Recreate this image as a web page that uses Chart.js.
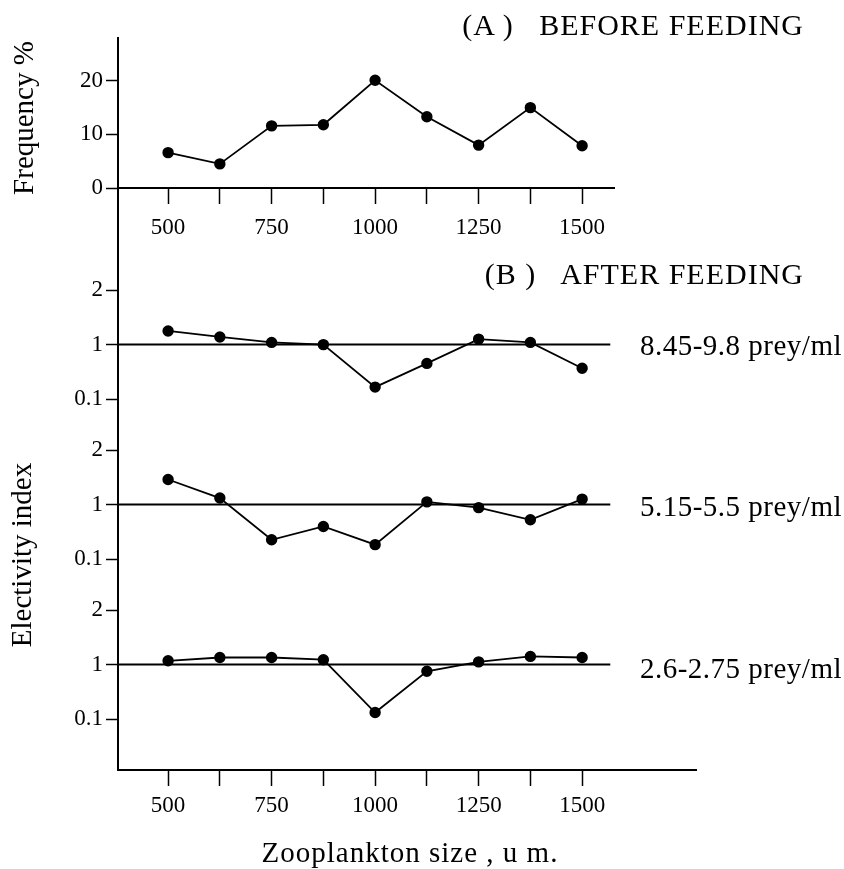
<!DOCTYPE html>
<html lang="en">
  <head>
    <meta charset="UTF-8" />
    <title>Electivity of zooplankton sizes</title>
    <script src="https://cdn.jsdelivr.net/npm/chart.js"></script>
    <style>
      body {
        margin: 0;
        background: #fff;
        color: #000;
        font-family: "Liberation Serif", "Times New Roman", serif;
      }
      #page {
        position: relative;
        width: 844px;
        height: 869px;
        overflow: hidden;
      }
      canvas {
        position: absolute;
        left: 0;
      }
      #chartA { top: 0; }
      #chartB { top: 250px; }
      .txt {
        position: absolute;
        white-space: pre;
        line-height: 1;
        font-size: 29px;
      }
      .title {
        font-size: 30px;
        letter-spacing: 1px;
      }
      .prey {
        letter-spacing: 0.5px;
      }
      .rot {
        transform: translate(-50%, -50%) rotate(-90deg);
      }
      #axisJoin {
        position: absolute;
        left: 117px;
        top: 188px;
        width: 2px;
        height: 102px;
        background: #000;
      }
    </style>
  </head>

  <body>
    <div id="page">
      <canvas id="chartA" width="844" height="250"></canvas>
      <canvas id="chartB" width="844" height="619"></canvas>
      <div id="axisJoin"></div>

      <div class="txt title" style="right: 40px; top: 10px">(A )   BEFORE FEEDING</div>
      <div class="txt title" style="right: 40px; top: 259px">(B )   AFTER FEEDING</div>
      <div class="txt prey" style="right: 2px; top: 331px"></div>
      <div class="txt prey" style="right: 2px; top: 492px"></div>
      <div class="txt prey" style="right: 2px; top: 654px"></div>
      <div class="txt rot" style="left: 23px; top: 118px">Frequency %</div>
      <div class="txt rot" style="left: 21px; top: 555px">Electivity index</div>
      <div class="txt" style="left: 410px; top: 852px; letter-spacing: 1px; transform: translate(-50%, -50%)">Zooplankton size , u m.</div>
    </div>

    <script>
      // zooplankton size classes (um)
      const SIZES = [500, 625, 750, 875, 1000, 1125, 1250, 1375, 1500];
      const SIZE_LABELS = [500, 750, 1000, 1250, 1500];

      // (A) before feeding, frequency %
      const FREQ_TICKS = [0, 10, 20];
      const FREQ = [6.6, 4.5, 11.6, 11.8, 20.1, 13.3, 8.0, 15.0, 7.9];

      // (B) after feeding, electivity index per prey density
      const EI_TICKS = [0.1, 1, 2];
      const EI_HIGH = [1.25, 1.14, 1.04, 1.0, 0.3, 0.69, 1.1, 1.04, 0.61];
      const EI_MID = [1.46, 1.12, 0.42, 0.64, 0.34, 1.05, 0.95, 0.75, 1.1];
      const EI_LOW = [1.07, 1.13, 1.13, 1.09, 0.21, 0.89, 1.05, 1.15, 1.13];
      const PREY_LABELS = ["8.45-9.8 prey/ml", "5.15-5.5 prey/ml", "2.6-2.75 prey/ml"];

      // axis extents (um)
      const X_MIN = 379;
      const X_END_A = 1577;
      const X_END_B = 1775;
      const REF_END = 1568;

      Chart.defaults.font.family = '"Liberation Serif", "Times New Roman", serif';
      Chart.defaults.font.size = 23;
      Chart.defaults.color = "#000";

      document.querySelectorAll(".prey").forEach((el, i) => {
        el.textContent = PREY_LABELS[i];
      });

      // the index axis has its ticks 0.1, 1, 2 evenly spaced
      function toAxis(v) {
        for (let i = 0; i < EI_TICKS.length - 1; i++) {
          const a = EI_TICKS[i];
          const b = EI_TICKS[i + 1];
          if (v <= b || i === EI_TICKS.length - 2) return i + (v - a) / (b - a);
        }
      }

      const lineStyle = {
        borderColor: "#000",
        borderWidth: 1.8,
        pointRadius: 4.8,
        pointBackgroundColor: "#000",
        pointBorderColor: "#000",
        tension: 0,
      };

      function xAxis(max, height, tickLen, pad) {
        return {
          type: "linear",
          min: X_MIN,
          max: max,
          afterBuildTicks: (s) => {
            s.ticks = SIZES.map((v) => ({ value: v }));
          },
          afterFit: (s) => {
            s.height = height;
          },
          ticks: {
            autoSkip: false,
            maxRotation: 0,
            padding: pad,
            callback: (v) => (SIZE_LABELS.includes(v) ? String(v) : ""),
          },
          grid: {
            drawOnChartArea: false,
            drawTicks: true,
            tickLength: tickLen,
            tickColor: "#000",
            tickWidth: 1.5,
          },
          border: { display: true, color: "#000", width: 2 },
        };
      }

      const plainOptions = {
        responsive: false,
        animation: false,
        events: [],
        plugins: { legend: { display: false }, tooltip: { enabled: false } },
      };

      // ---- (A) before feeding ----
      new Chart(document.getElementById("chartA"), {
        type: "line",
        data: {
          datasets: [
            {
              data: SIZES.map((x, i) => ({ x: x, y: FREQ[i] })),
              ...lineStyle,
            },
          ],
        },
        options: {
          ...plainOptions,
          layout: { padding: { top: 38, right: 230, left: 0, bottom: 0 } },
          scales: {
            x: xAxis(X_END_A, 62, 16, 10),
            y: {
              min: 0,
              max: 28,
              afterBuildTicks: (s) => {
                s.ticks = FREQ_TICKS.map((v) => ({ value: v }));
              },
              afterFit: (s) => {
                s.width = 118;
              },
              ticks: { padding: 3 },
              grid: {
                drawOnChartArea: false,
                tickLength: 12,
                tickColor: "#000",
                tickWidth: 1.5,
              },
              border: { display: true, color: "#000", width: 2 },
            },
          },
        },
      });

      // ---- (B) after feeding: three stacked index axes ----
      const panels = [
        { id: "b1", values: EI_HIGH },
        { id: "b2", values: EI_MID },
        { id: "b3", values: EI_LOW },
      ];

      // stacked axes are laid out from the bottom up, so add them in reverse
      const scalesB = { x: xAxis(X_END_B, 99, 16, 6) };
      panels
        .slice()
        .reverse()
        .forEach((p) => {
          scalesB[p.id] = {
            type: "linear",
            position: "left",
            stack: "elect",
            stackWeight: 1,
            offset: false,
            min: -0.93,
            max: 2,
            afterBuildTicks: (s) => {
              s.ticks = EI_TICKS.map((v) => ({ value: toAxis(v) }));
            },
            afterFit: (s) => {
              s.width = 118;
            },
            ticks: {
              padding: 3,
              callback: (v, i) => String(EI_TICKS[i]),
            },
            grid: {
              drawOnChartArea: false,
              tickLength: 12,
              tickColor: "#000",
              tickWidth: 1.5,
            },
            border: { display: true, color: "#000", width: 2 },
          };
        });

      const datasetsB = [];
      panels.forEach((p) => {
        datasetsB.push({
          yAxisID: p.id,
          data: [
            { x: X_MIN, y: toAxis(1) },
            { x: REF_END, y: toAxis(1) },
          ],
          borderColor: "#000",
          borderWidth: 2,
          pointRadius: 0,
        });
        datasetsB.push({
          yAxisID: p.id,
          data: SIZES.map((x, i) => ({ x: x, y: toAxis(p.values[i]) })),
          ...lineStyle,
        });
      });

      new Chart(document.getElementById("chartB"), {
        type: "line",
        data: { datasets: datasetsB },
        options: {
          ...plainOptions,
          layout: { padding: { top: 40, right: 148, left: 0, bottom: 0 } },
          scales: scalesB,
        },
      });
    </script>
  </body>
</html>
